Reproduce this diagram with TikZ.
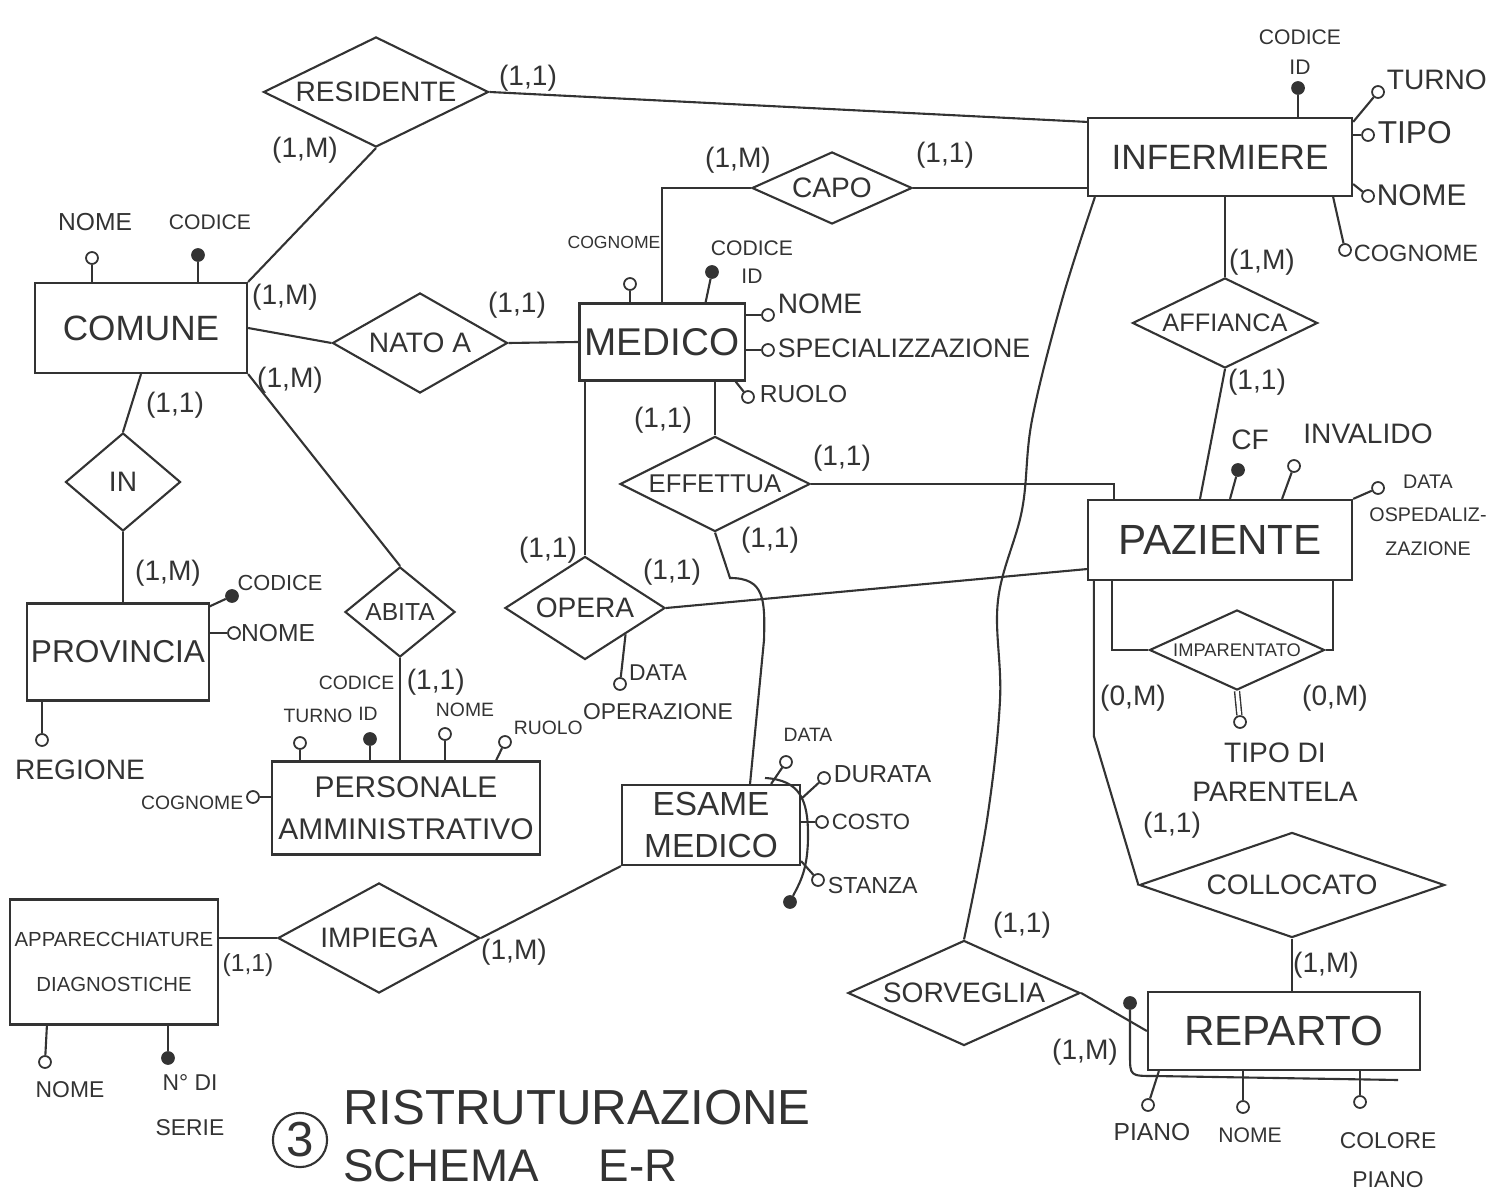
\documentclass[tikz,border=0pt]{standalone}
\usepackage{fontspec}
\setmainfont{Liberation Sans}
\usetikzlibrary{shapes.geometric}

\newcommand{\tsize}[2]{\fontsize{#1}{#2}\selectfont}

\tikzset{
  entity/.style={draw, rectangle, inner sep=1pt, align=center, font=\tsize{10}{12}},
  rel/.style={draw, diamond, inner sep=0pt, font=\tsize{8}{10}},
  attr/.style={draw, circle, fill=white, inner sep=0pt, minimum size=3.4pt, line width=0.5pt},
  keyattr/.style={attr, fill=black!80},
  lbl/.style={inner sep=0.5pt, align=center, font=\tsize{7}{8.5}},
  smalllbl/.style={lbl, font=\tsize{5.5}{7}},
  card/.style={inner sep=0.5pt, font=\tsize{8}{10}},
}

\begin{document}
\begin{tikzpicture}[x=0.01cm, y=-0.01cm, line width=0.6pt, color=black!80]
    \useasboundingbox (0,0) rectangle (1495,1192);

    % entita
    \node[entity, minimum width=2.12cm, minimum height=0.9cm] (comune) at (141,328) {COMUNE};
    \node[entity, minimum width=1.8cm, minimum height=0.97cm, font=\tsize{9}{11}] (provincia) at (118,652) {PROVINCIA};
    \node[entity, minimum width=1.65cm, minimum height=0.77cm, font=\tsize{11}{13}] (medico) at (662,342) {MEDICO};
    \node[entity, minimum width=2.64cm, minimum height=0.78cm] (infermiere) at (1220,157) {INFERMIERE};
    \node[entity, minimum width=2.64cm, minimum height=0.8cm, font=\tsize{12}{14}] (paziente) at (1220,540) {PAZIENTE};
    \node[entity, minimum width=2.68cm, minimum height=0.93cm, font=\tsize{8.5}{12}] (personale) at (406,808) {PERSONALE\\AMMINISTRATIVO};
    \node[entity, minimum width=1.78cm, minimum height=0.8cm, font=\tsize{9.5}{12}] (esame) at (711,825) {ESAME\\MEDICO};
    \node[entity, minimum width=2.08cm, minimum height=1.25cm, font=\tsize{5.8}{13}] (apparecchiature) at (114,962) {APPARECCHIATURE\\DIAGNOSTICHE};
    \node[entity, minimum width=2.72cm, minimum height=0.78cm, font=\tsize{12}{14}] (reparto) at (1284,1031) {REPARTO};

    % relazioni
    \node[rel, aspect=2.05, minimum width=2.25cm, minimum height=1.1cm] (residente) at (376,92) {RESIDENTE};
    \node[rel, aspect=1.75, minimum width=1.75cm, minimum height=1cm] (natoa) at (420,343) {NATO A};
    \node[rel, aspect=1.17, minimum width=1.15cm, minimum height=0.98cm] (inrel) at (123,482) {IN};
    \node[rel, aspect=1.22, minimum width=1.1cm, minimum height=0.9cm, font=\tsize{7}{9}] (abita) at (400,612) {ABITA};
    \node[rel, aspect=2.2, minimum width=1.6cm, minimum height=0.72cm] (capo) at (832,188) {CAPO};
    \node[rel, aspect=2, minimum width=1.9cm, minimum height=0.95cm, font=\tsize{7.3}{9}] (effettua) at (715,484) {EFFETTUA};
    \node[rel, aspect=1.55, minimum width=1.6cm, minimum height=1.03cm] (opera) at (585,608) {OPERA};
    \node[rel, aspect=1.84, minimum width=2.02cm, minimum height=1.1cm] (impiega) at (379,938) {IMPIEGA};
    \node[rel, aspect=2.05, minimum width=1.85cm, minimum height=0.9cm, font=\tsize{7.2}{9}] (affianca) at (1225,323) {AFFIANCA};
    \node[rel, aspect=2.1, minimum width=1.75cm, minimum height=0.8cm, font=\tsize{5.2}{7}] (imparentato) at (1237,650) {IMPARENTATO};
    \node[rel, aspect=2.9, minimum width=3.05cm, minimum height=1.05cm] (collocato) at (1292,885) {COLLOCATO};
    \node[rel, aspect=2.2, minimum width=2.32cm, minimum height=1.05cm] (sorveglia) at (964,993) {SORVEGLIA};

    % collegamenti
    \draw (residente.east) -- ([yshift=-0.05cm]infermiere.north west);
    \draw (residente.south) -- (comune.north east);
    \draw (comune.east) -- (natoa.west);
    \draw (natoa.east) -- (medico.west);
    \draw (comune.south east) -- (abita.north);
    \draw (abita.south) -- (abita.south |- personale.north);
    \draw (comune.south) -- (inrel.north);
    \draw (inrel.south) -- (inrel.south |- provincia.north);
    \draw (medico.north) |- (capo.west);
    \draw (capo.east) -- (capo.east -| infermiere.west);
    \draw (effettua.north |- medico.south) -- (effettua.north);
    \draw (opera.north |- medico.south) -- (opera.north);
    \draw (effettua.east) -| ([xshift=0.27cm]paziente.north west);
    \draw (opera.east) -- ([yshift=0.12cm]paziente.south west);
    \draw (effettua.south) -- (730,578) .. controls (765,578) and (765,600) .. (764,640) -- ([xshift=0.39cm]esame.north);
    \draw (apparecchiature.east |- impiega.west) -- (impiega.west);
    \draw (impiega.east) -- (esame.south west);
    \draw (infermiere.south -| affianca.north) -- (affianca.north);
    \draw (affianca.south) -- ([xshift=-0.2cm]paziente.north);
    \draw ([xshift=0.25cm]paziente.south west) |- (imparentato.west);
    \draw ([xshift=-0.2cm]paziente.south east) |- (imparentato.east);
    \draw ([xshift=0.07cm]paziente.south west) -- ++(0,155) -- (collocato.west);
    \draw (collocato.south) -- (collocato.south |- reparto.north);
    \draw (sorveglia.east) -- (reparto.west);
    \coordinate (inf-sw) at ([xshift=0.08cm]infermiere.south west);
    \draw plot[smooth, tension=0.6] coordinates {(inf-sw) (1062,300) (1032,420) (1022,510) (998,600) (1000,700) (987,820) (sorveglia.north)};

    % cardinalita
    \node[card] (c-res-inf) at (528,78) {(1,1)};
    \node[card] (c-res-com) at (305,150) {(1,M)};
    \node[card] (c-com-nat) at (285,297) {(1,M)};
    \node[card] (c-nat-med) at (517,305) {(1,1)};
    \node[card] (c-com-abi) at (290,380) {(1,M)};
    \node[card] (c-com-in) at (175,405) {(1,1)};
    \node[card] (c-in-pro) at (168,573) {(1,M)};
    \node[card, anchor=west] (c-abi-per) at (404,682) {(1,1)};
    \node[card] (c-med-capo) at (738,160) {(1,M)};
    \node[card] (c-capo-inf) at (945,155) {(1,1)};
    \node[card] (c-med-eff) at (663,420) {(1,1)};
    \node[card] (c-med-ope) at (548,550) {(1,1)};
    \node[card] (c-ope-paz) at (672,572) {(1,1)};
    \node[card] (c-eff-paz) at (842,458) {(1,1)};
    \node[card] (c-eff-esa) at (770,540) {(1,1)};
    \node[card, font=\tsize{7}{9}] (c-app-imp) at (248,965) {(1,1)};
    \node[card] (c-imp-esa) at (514,952) {(1,M)};
    \node[card] (c-inf-aff) at (1262,262) {(1,M)};
    \node[card] (c-aff-paz) at (1257,382) {(1,1)};
    \node[card] (c-imp-sx) at (1133,698) {(0,M)};
    \node[card] (c-imp-dx) at (1335,698) {(0,M)};
    \node[card] (c-paz-col) at (1172,825) {(1,1)};
    \node[card] (c-col-rep) at (1326,965) {(1,M)};
    \node[card] (c-inf-sor) at (1022,925) {(1,1)};
    \node[card] (c-sor-rep) at (1085,1052) {(1,M)};

    % attributi comune
    \node[attr] (com-nome) at (92,258) {};
    \draw (com-nome) -- (com-nome |- comune.north);
    \node[lbl] (com-nome-l) at (95,222) {NOME};
    \node[keyattr] (com-codice) at (198,255) {};
    \draw (com-codice) -- (com-codice |- comune.north);
    \node[lbl, font=\tsize{6}{7}] (com-codice-l) at (210,222) {CODICE};

    % attributi provincia
    \node[keyattr] (pro-codice) at (232,596) {};
    \draw ([yshift=-0.04cm]provincia.north east) -- (pro-codice);
    \node[lbl, font=\tsize{6.2}{7}] (pro-codice-l) at (280,583) {CODICE};
    \node[attr] (pro-nome) at (234,633) {};
    \draw (pro-nome -| provincia.east) -- (pro-nome);
    \node[lbl] (pro-nome-l) at (278,633) {NOME};
    \node[attr] (pro-regione) at (42,740) {};
    \draw (pro-regione |- provincia.south) -- (pro-regione);
    \node[lbl, font=\tsize{8}{9}] (pro-regione-l) at (80,770) {REGIONE};

    % attributi medico
    \node[attr] (med-cognome) at (630,284) {};
    \draw (med-cognome) -- (med-cognome |- medico.north);
    \node[smalllbl, font=\tsize{5}{6}] (med-cognome-l) at (614,242) {COGNOME};
    \node[keyattr] (med-codice) at (712,272) {};
    \draw ([xshift=-0.4cm]medico.north east) -- (med-codice);
    \node[lbl, font=\tsize{6}{8}] (med-codice-l) at (752,262) {CODICE\\ID};
    \node[attr] (med-nome) at (768,315) {};
    \draw (med-nome -| medico.east) -- (med-nome);
    \node[lbl, font=\tsize{8}{9}] (med-nome-l) at (820,304) {NOME};
    \node[attr] (med-spec) at (768,350) {};
    \draw (med-spec -| medico.east) -- (med-spec);
    \node[lbl, font=\tsize{7.6}{9}, anchor=west] (med-spec-l) at (775,348) {SPECIALIZZAZIONE};
    \node[attr] (med-ruolo) at (748,397) {};
    \draw ([xshift=-0.1cm]medico.south east) -- (med-ruolo);
    \node[lbl, anchor=west] (med-ruolo-l) at (757,394) {RUOLO};

    % attributi infermiere
    \node[keyattr] (inf-codice) at (1298,88) {};
    \draw (inf-codice) -- (inf-codice |- infermiere.north);
    \node[lbl, font=\tsize{6}{8.5}] (inf-codice-l) at (1300,52) {CODICE\\ID};
    \node[attr] (inf-turno) at (1378,92) {};
    \draw ([yshift=-0.05cm]infermiere.north east) -- (inf-turno);
    \node[lbl, font=\tsize{8}{9}, anchor=west] (inf-turno-l) at (1384,80) {TURNO};
    \node[attr] (inf-tipo) at (1368,135) {};
    \draw (inf-tipo -| infermiere.east) -- (inf-tipo);
    \node[lbl, font=\tsize{9}{10}, anchor=west] (inf-tipo-l) at (1375,133) {TIPO};
    \node[attr] (inf-nome) at (1368,196) {};
    \draw ([yshift=0.13cm]infermiere.south east) -- (inf-nome);
    \node[lbl, font=\tsize{8.5}{10}, anchor=west] (inf-nome-l) at (1374,195) {NOME};
    \node[attr] (inf-cognome) at (1345,250) {};
    \draw ([xshift=-0.2cm]infermiere.south east) -- (inf-cognome);
    \node[lbl, font=\tsize{6.7}{8}, anchor=west] (inf-cognome-l) at (1351,253) {COGNOME};

    % attributi paziente
    \node[keyattr] (paz-cf) at (1238,470) {};
    \draw ([xshift=0.1cm]paziente.north) -- (paz-cf);
    \node[lbl, font=\tsize{8}{9}] (paz-cf-l) at (1250,440) {CF};
    \node[attr] (paz-invalido) at (1294,466) {};
    \draw ([xshift=0.62cm]paziente.north) -- (paz-invalido);
    \node[lbl, font=\tsize{8}{9}] (paz-invalido-l) at (1368,434) {INVALIDO};
    \node[attr] (paz-data) at (1378,488) {};
    \draw (paziente.north east) -- (paz-data);
    \node[lbl, font=\tsize{5.6}{9.5}] (paz-data-l) at (1428,515) {DATA\\OSPEDALIZ-\\ZAZIONE};

    % attributi imparentato
    \node[attr] (imp-tipo) at (1240,722) {};
    \draw[double, double distance=1pt, line width=0.4pt] (imparentato.south) -- (imp-tipo);
    \node[lbl, font=\tsize{8}{11}] (imp-tipo-l) at (1275,772) {TIPO DI\\PARENTELA};

    % attributi opera
    \node[attr] (ope-data) at (620,684) {};
    \draw (opera.south east) -- (ope-data);
    \node[lbl, font=\tsize{6.5}{11}] (ope-data-l) at (658,692) {DATA\\OPERAZIONE};

    % attributi personale amministrativo
    \node[attr] (per-turno) at (300,743) {};
    \draw (per-turno) -- (per-turno |- personale.north);
    \node[smalllbl] (per-turno-l) at (318,716) {TURNO};
    \node[keyattr] (per-codice) at (370,739) {};
    \draw (per-codice) -- (per-codice |- personale.north);
    \node[smalllbl, anchor=east] (per-codice-l) at (397,683) {CODICE};
    \node[smalllbl] (per-id-l) at (368,714) {ID};
    \node[attr] (per-nome) at (445,734) {};
    \draw (per-nome) -- (per-nome |- personale.north);
    \node[smalllbl] (per-nome-l) at (465,710) {NOME};
    \node[attr] (per-ruolo) at (505,742) {};
    \draw ([xshift=-0.45cm]personale.north east) -- (per-ruolo);
    \node[smalllbl, anchor=west] (per-ruolo-l) at (511,728) {RUOLO};
    \node[attr] (per-cognome) at (253,797) {};
    \draw (per-cognome -| personale.west) -- (per-cognome);
    \node[smalllbl, anchor=east] (per-cognome-l) at (246,803) {COGNOME};

    % attributi esame medico
    \node[attr] (esa-data) at (786,762) {};
    \draw ([xshift=-0.3cm]esame.north east) -- (esa-data);
    \node[smalllbl] (esa-data-l) at (808,735) {DATA};
    \node[attr] (esa-durata) at (824,778) {};
    \draw ([yshift=-0.15cm]esame.north east) -- (esa-durata);
    \node[lbl, anchor=west] (esa-durata-l) at (831,774) {DURATA};
    \node[attr] (esa-costo) at (822,822) {};
    \draw (esa-costo -| esame.east) -- (esa-costo);
    \node[lbl, font=\tsize{6.3}{8}, anchor=west] (esa-costo-l) at (829,822) {COSTO};
    \node[attr] (esa-stanza) at (818,880) {};
    \draw ([yshift=0.05cm]esame.south east) -- (esa-stanza);
    \node[lbl, font=\tsize{6.6}{8}, anchor=west] (esa-stanza-l) at (825,886) {STANZA};
    \node[keyattr] (esa-id) at (790,902) {};
    \coordinate (esa-idstart) at (765,778);
    \draw (esa-idstart) .. controls (800,780) and (808,800) .. (808,835) .. controls (808,870) and (800,882) .. (esa-id);

    % attributi apparecchiature
    \node[attr] (app-nome) at (45,1062) {};
    \draw ([xshift=0.38cm]apparecchiature.south west) -- (app-nome);
    \node[lbl, font=\tsize{6.5}{8}] (app-nome-l) at (70,1090) {NOME};
    \node[keyattr] (app-serie) at (168,1058) {};
    \draw (app-serie |- apparecchiature.south) -- (app-serie);
    \node[lbl, font=\tsize{6.5}{13}] (app-serie-l) at (190,1105) {N° DI\\SERIE};

    % attributi reparto
    \node[attr] (rep-piano) at (1148,1105) {};
    \draw ([xshift=0.12cm]reparto.south west) -- (rep-piano);
    \node[lbl] (rep-piano-l) at (1152,1132) {PIANO};
    \node[attr] (rep-nome) at (1243,1107) {};
    \draw (rep-nome |- reparto.south) -- (rep-nome);
    \node[lbl, font=\tsize{6}{7}] (rep-nome-l) at (1250,1135) {NOME};
    \node[attr] (rep-colore) at (1360,1102) {};
    \draw (rep-colore |- reparto.south) -- (rep-colore);
    \node[lbl, font=\tsize{6.5}{11}] (rep-colore-l) at (1388,1160) {COLORE\\PIANO};
    \node[keyattr] (rep-id) at (1130,1003) {};
    \coordinate (rep-idend) at (1398,1080);
    \draw (rep-id) -- (1130,1055) .. controls (1130,1076) .. (1155,1076) -- (rep-idend);

    % titolo
    \node[draw, circle, inner sep=1pt, minimum size=0.5cm, font=\tsize{14}{16}] (numero) at (300,1140) {3};
    \node[anchor=west, inner sep=0pt, font=\tsize{14}{16}] (titolo) at (342,1108) {RISTRUTURAZIONE};
    \node[anchor=west, inner sep=0pt, font=\tsize{13}{15}] (schema) at (342,1166) {SCHEMA\hspace{0.6cm}E-R};
\end{tikzpicture}
\end{document}
